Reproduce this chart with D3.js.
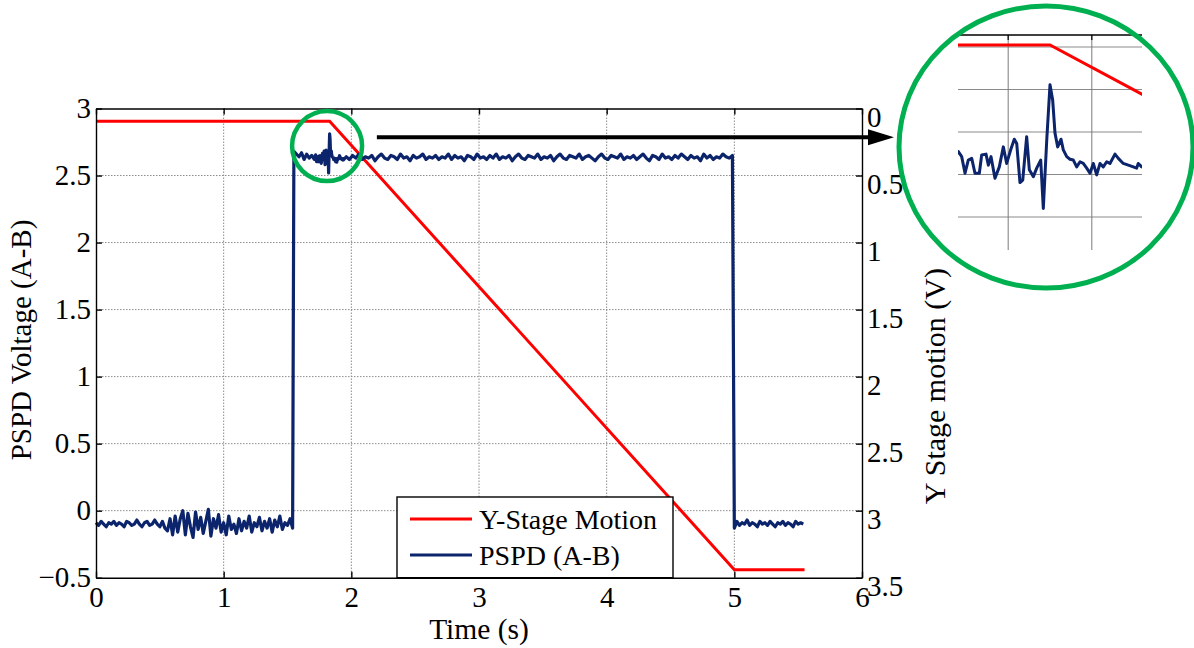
<!DOCTYPE html>
<html>
<head>
<meta charset="utf-8">
<script src="https://d3js.org/d3.v7.min.js"></script>
<style>
    html, body { margin: 0; padding: 0; background: #fff; }
    svg { display: block; font-family: "Liberation Serif", "Times New Roman", Times, serif; }
    .axis path, .axis line { stroke: #000; stroke-width: 1.4px; }
    .axis text { font-size: 29px; fill: #000; font-family: "Liberation Serif", "Times New Roman", Times, serif; }
    .grid line { stroke: #8c8c8c; stroke-width: 1px; stroke-dasharray: 1.5,1.5; }
</style>
</head>
<body>
<div id="chart"></div>
<script>

// x ticks / y ticks as printed on the figure
var timeTicks = [0, 1, 2, 3, 4, 5, 6];
var pspdTicks = [-0.5, 0, 0.5, 1, 1.5, 2, 2.5, 3];
var stageTicks = [0, 0.5, 1, 1.5, 2, 2.5, 3, 3.5];

// Y-stage motion (right axis, volts), corner points of the ramp
var stageTime  = [0, 1.83, 5.0, 5.55];
var stageValue = [0.095, 0.095, 3.44, 3.44];

var pspdPreStart = 0, pspdPreStep = 0.02;
var pspdPre = [
    -0.09, -0.11, -0.08, -0.10, -0.12, -0.09, -0.10, -0.08, -0.11, -0.09,
    -0.10, -0.12, -0.08, -0.09, -0.11, -0.10, -0.07, -0.10, -0.12, -0.09,
    -0.08, -0.11, -0.10, -0.07, -0.10, -0.12, -0.08, -0.13, -0.15, -0.06,
    -0.18, -0.04, -0.16, -0.06, 0.00, -0.18, -0.02, -0.12, -0.20, -0.01,
    -0.14, -0.05, -0.17, -0.08, 0.01, -0.19, -0.06, -0.13, -0.03, -0.16,
    -0.09, -0.18, -0.04, -0.14, -0.10, -0.17, -0.06, -0.15, -0.08, -0.13,
    -0.04, -0.16, -0.09, -0.12, -0.05, -0.15, -0.08, -0.13, -0.06, -0.16,
    -0.07, -0.12, -0.04, -0.14, -0.09, -0.11, -0.06, -0.13
];

var pspdRiseStart = 1.55, pspdRiseStep = 0.02;
var pspdRise = [2.68, 2.66, 2.64, 2.67, 2.62, 2.66, 2.63, 2.65, 2.62];

// the bit shown magnified in the circle
var pspdZoomTime = [
    1.7204, 1.7244, 1.7284, 1.7323, 1.7364, 1.7403, 1.7455, 1.7483, 1.7535, 1.7563,
    1.7595, 1.7642, 1.7694, 1.7742, 1.7782, 1.7830, 1.7873, 1.7902, 1.7941, 1.7974,
    1.8021, 1.8053, 1.8101, 1.8141, 1.8189, 1.8220, 1.8261, 1.8300, 1.8332, 1.8360,
    1.8392, 1.8432, 1.8459, 1.8500, 1.8539, 1.8579, 1.8619, 1.8659, 1.8698, 1.8739,
    1.8778, 1.8818, 1.8858, 1.8898, 1.8937, 1.8978, 1.9017, 1.9077, 1.9117, 1.9176,
    1.9236, 1.9296, 1.9336, 1.9355, 1.9396
];
var pspdZoomValue = [
    2.654, 2.642, 2.603, 2.634, 2.638, 2.603, 2.603, 2.646, 2.648, 2.622,
    2.642, 2.591, 2.618, 2.665, 2.626, 2.658, 2.683, 2.673, 2.581, 2.587,
    2.689, 2.611, 2.595, 2.615, 2.634, 2.520, 2.681, 2.811, 2.775, 2.697,
    2.665, 2.683, 2.658, 2.642, 2.636, 2.634, 2.618, 2.630, 2.626, 2.615,
    2.603, 2.626, 2.599, 2.626, 2.618, 2.630, 2.626, 2.648, 2.638, 2.626,
    2.622, 2.618, 2.615, 2.626, 2.618
];

var pspdHighStart = 1.96, pspdHighStep = 0.025;
var pspdHigh = [
    2.64, 2.62, 2.65, 2.63, 2.66, 2.62, 2.64, 2.63, 2.65, 2.61,
    2.64, 2.66, 2.63, 2.62, 2.65, 2.64, 2.62, 2.66, 2.63, 2.64,
    2.61, 2.65, 2.63, 2.64, 2.66, 2.62, 2.64, 2.63, 2.65, 2.62,
    2.64, 2.63, 2.66, 2.62, 2.65, 2.63, 2.64, 2.61, 2.65, 2.64,
    2.62, 2.66, 2.63, 2.64, 2.62, 2.65, 2.63, 2.66, 2.62, 2.64,
    2.63, 2.65, 2.61, 2.64, 2.66, 2.63, 2.62, 2.65, 2.64, 2.63,
    2.66, 2.62, 2.64, 2.63, 2.65, 2.61, 2.64, 2.66, 2.63, 2.62,
    2.65, 2.64, 2.63, 2.66, 2.62, 2.64, 2.65, 2.63, 2.61, 2.64,
    2.66, 2.63, 2.62, 2.65, 2.64, 2.63, 2.66, 2.62, 2.64, 2.63,
    2.65, 2.62, 2.64, 2.66, 2.63, 2.61, 2.65, 2.64, 2.62, 2.66,
    2.63, 2.64, 2.62, 2.65, 2.63, 2.66, 2.64, 2.62, 2.65, 2.63,
    2.64, 2.61, 2.66, 2.63, 2.65, 2.62, 2.64, 2.63, 2.66, 2.64,
    2.63, 2.65
];

var pspdPostStart = 5.0, pspdPostStep = 0.02;
var pspdPost = [
    -0.13, -0.08, -0.11, -0.09, -0.10, -0.07, -0.11, -0.09, -0.10, -0.12,
    -0.08, -0.10, -0.09, -0.11, -0.08, -0.10, -0.12, -0.09, -0.10, -0.08,
    -0.11, -0.09, -0.10, -0.12, -0.08, -0.10, -0.09, -0.10
];

var legendLabels = ['Y-Stage Motion', 'PSPD (A-B)'];
var seriesColors = ['#ff0000', '#0b246b'];

var width = 1194, height = 648;

var margin = { left : 96, right : 862, top : 108.5, bottom : 577.7 };

var x = d3.scaleLinear().domain([0, 6]).range([margin.left, margin.right]);
var yLeft = d3.scaleLinear().domain([-0.5, 3]).range([margin.bottom, margin.top]);
var yRight = d3.scaleLinear().domain([0, 3.5]).range([margin.top, margin.bottom]);

function sampled(start, step, values) {
    return values.map(function (v, i) { return [start + i * step, v]; });
}

var pspdPoints = []
    .concat(sampled(pspdPreStart, pspdPreStep, pspdPre))
    .concat(sampled(pspdRiseStart, pspdRiseStep, pspdRise))
    .concat(pspdZoomTime.map(function (t, i) { return [t, pspdZoomValue[i]]; }))
    .concat(sampled(pspdHighStart, pspdHighStep, pspdHigh))
    .concat(sampled(pspdPostStart, pspdPostStep, pspdPost));

var stagePoints = stageTime.map(function (t, i) { return [t, stageValue[i]]; });

var svg = d3.select('#chart')
    .append('svg')
        .attr('width', width)
        .attr('height', height)
;

svg.append('rect').attr('width', width).attr('height', height).attr('fill', '#fff');

// grid
var grid = svg.append('g').attr('class', 'grid');
grid.selectAll('.vgrid')
    .data(timeTicks.slice(1, -1))
    .enter().append('line')
        .attr('x1', function (d) { return x(d); })
        .attr('x2', function (d) { return x(d); })
        .attr('y1', margin.top)
        .attr('y2', margin.bottom)
;
grid.selectAll('.hgrid')
    .data(pspdTicks.slice(1, -1))
    .enter().append('line')
        .attr('x1', margin.left)
        .attr('x2', margin.right)
        .attr('y1', function (d) { return yLeft(d); })
        .attr('y2', function (d) { return yLeft(d); })
;

// data lines
var lineStage = d3.line()
    .x(function (d) { return x(d[0]); })
    .y(function (d) { return yRight(d[1]); });

var linePspd = d3.line()
    .x(function (d) { return x(d[0]); })
    .y(function (d) { return yLeft(d[1]); });

svg.append('path')
    .datum(stagePoints)
    .attr('d', lineStage)
    .attr('fill', 'none')
    .attr('stroke', seriesColors[0])
    .attr('stroke-width', 3)
;

svg.append('path')
    .datum(pspdPoints)
    .attr('d', linePspd)
    .attr('fill', 'none')
    .attr('stroke', seriesColors[1])
    .attr('stroke-width', 3.2)
    .attr('stroke-linejoin', 'round')
;

// axes, ticks point inward like matlab
var fmt = function (d) { return d3.format('')(d); };

svg.append('g')
    .attr('class', 'axis')
    .attr('transform', 'translate(' + margin.left + ',0)')
    .call(d3.axisLeft(yLeft).tickValues(pspdTicks).tickFormat(fmt).tickSizeInner(-6).tickSizeOuter(0).tickPadding(5))
;

svg.append('g')
    .attr('class', 'axis')
    .attr('transform', 'translate(' + margin.right + ',0)')
    .call(d3.axisRight(yRight).tickValues(stageTicks).tickFormat(fmt).tickSizeInner(-6).tickSizeOuter(0).tickPadding(5))
    .selectAll('text')
        .attr('dy', '0.62em')
;

svg.append('g')
    .attr('class', 'axis')
    .attr('transform', 'translate(0,' + margin.bottom + ')')
    .call(d3.axisBottom(x).tickValues(timeTicks).tickFormat(fmt).tickSizeInner(-6).tickSizeOuter(0).tickPadding(9))
;

svg.append('g')
    .attr('class', 'axis')
    .attr('transform', 'translate(0,' + margin.top + ')')
    .call(d3.axisTop(x).tickValues(timeTicks).tickFormat('').tickSizeInner(-6).tickSizeOuter(0))
;

// axis titles
svg.append('text')
    .attr('transform', 'translate(31,340) rotate(-90)')
    .attr('text-anchor', 'middle')
    .attr('font-size', 29)
    .text('PSPD Voltage (A-B)')
;

svg.append('text')
    .attr('transform', 'translate(945,268) rotate(-90)')
    .attr('text-anchor', 'end')
    .attr('font-size', 30)
    .text('Y Stage motion (V)')
;

svg.append('text')
    .attr('x', x(3))
    .attr('y', 639)
    .attr('text-anchor', 'middle')
    .attr('font-size', 29.5)
    .text('Time (s)')
;

// legend
var legend = svg.append('g').attr('transform', 'translate(397,497)');
legend.append('rect')
    .attr('width', 276)
    .attr('height', margin.bottom - 497)
    .attr('fill', '#fff')
    .attr('stroke', '#000')
    .attr('stroke-width', 1.4)
;
var rows = legend.selectAll('.row')
    .data(legendLabels)
    .enter().append('g')
        .attr('transform', function (d, i) { return 'translate(0,' + (22 + i * 36) + ')'; })
;
rows.append('line')
    .attr('x1', 13).attr('x2', 75)
    .attr('stroke', function (d, i) { return seriesColors[i]; })
    .attr('stroke-width', 3)
;
rows.append('text')
    .attr('x', 82)
    .attr('dy', '0.34em')
    .attr('font-size', 28)
    .text(function (d) { return d; })
;

// highlight circle + arrow
var green = '#00b050';

svg.append('circle')
    .attr('cx', x(1.81))
    .attr('cy', yLeft(2.72))
    .attr('r', 35)
    .attr('fill', 'none')
    .attr('stroke', green)
    .attr('stroke-width', 4.5)
;

var arrowY = yLeft(2.785);
svg.append('line')
    .attr('x1', x(2.2)).attr('x2', 870)
    .attr('y1', arrowY).attr('y2', arrowY)
    .attr('stroke', '#000')
    .attr('stroke-width', 4)
;
svg.append('path')
    .attr('d', 'M868,' + (arrowY - 8) + 'L894,' + arrowY + 'L868,' + (arrowY + 8) + 'Z')
    .attr('fill', '#000')
;

// magnified inset
var insetX = d3.scaleLinear().domain([1.72, 1.94]).range([958, 1142]);
var insetY = d3.scaleLinear().domain([2.5, 2.9]).range([217, 47]);
var insetGridX = [1.78, 1.88];
var insetGridY = [2.9, 2.8, 2.7, 2.6, 2.5];

svg.append('clipPath')
    .attr('id', 'insetClip')
    .append('rect')
        .attr('x', 958).attr('y', 35)
        .attr('width', 184).attr('height', 215)
;

var inset = svg.append('g');

inset.selectAll('.ig')
    .data(insetGridY)
    .enter().append('line')
        .attr('x1', 958).attr('x2', 1142)
        .attr('y1', function (d) { return insetY(d); })
        .attr('y2', function (d) { return insetY(d); })
        .attr('stroke', '#8a8a8a')
        .attr('stroke-width', 1)
;
inset.selectAll('.igx')
    .data(insetGridX)
    .enter().append('line')
        .attr('x1', function (d) { return insetX(d); })
        .attr('x2', function (d) { return insetX(d); })
        .attr('y1', 35).attr('y2', 250)
        .attr('stroke', '#7a7a7a')
        .attr('stroke-width', 1)
;
inset.append('line')
    .attr('x1', 958).attr('x2', 1142)
    .attr('y1', 35).attr('y2', 35)
    .attr('stroke', '#000')
    .attr('stroke-width', 1.4)
;
inset.selectAll('.itick')
    .data(insetGridX)
    .enter().append('line')
        .attr('x1', function (d) { return insetX(d); })
        .attr('x2', function (d) { return insetX(d); })
        .attr('y1', 35).attr('y2', 40)
        .attr('stroke', '#000')
        .attr('stroke-width', 1.2)
;

var insetData = inset.append('g').attr('clip-path', 'url(#insetClip)');

insetData.append('path')
    .datum(stagePoints)
    .attr('d', d3.line()
        .x(function (d) { return insetX(d[0]); })
        .y(function (d) { return insetY(3 - d[1]); }))
    .attr('fill', 'none')
    .attr('stroke', seriesColors[0])
    .attr('stroke-width', 3)
;

insetData.append('path')
    .datum(pspdPoints)
    .attr('d', d3.line()
        .x(function (d) { return insetX(d[0]); })
        .y(function (d) { return insetY(d[1]); }))
    .attr('fill', 'none')
    .attr('stroke', seriesColors[1])
    .attr('stroke-width', 3)
    .attr('stroke-linejoin', 'round')
;

svg.append('ellipse')
    .attr('cx', 1046).attr('cy', 147)
    .attr('rx', 147).attr('ry', 141)
    .attr('fill', 'none')
    .attr('stroke', green)
    .attr('stroke-width', 5)
;

</script>
</body>
</html>
